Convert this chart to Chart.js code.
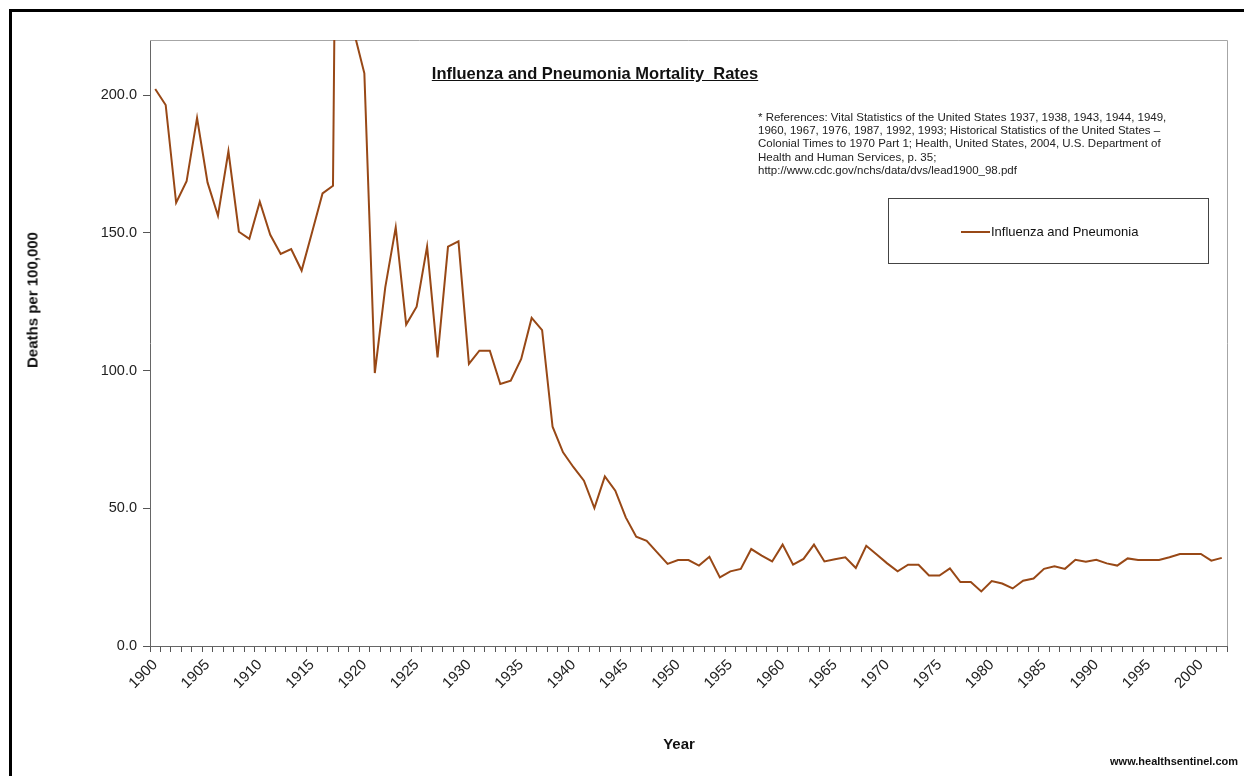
<!DOCTYPE html>
<html>
<head>
<meta charset="utf-8">
<title>Influenza and Pneumonia Mortality Rates</title>
<script src="https://cdn.jsdelivr.net/npm/chart.js@4.4.1/dist/chart.umd.min.js"></script>
<style>
  body { margin: 0; background: #fff; font-family: 'Liberation Sans', Arial, sans-serif; }
  #wrap { position: relative; width: 1244px; height: 776px; overflow: hidden; }
  #frame { position: absolute; left: 9px; top: 9px; width: 1260px; height: 800px; border: 3px solid #000; }
  #chart { position: absolute; left: 0; top: 0; }
  #title { position: absolute; left: 0; width: 1190px; top: 64px; text-align: center; font-weight: bold; font-size: 16.5px; text-decoration: underline; color: #111; white-space: pre; }
  #note { position: absolute; left: 758px; top: 111px; font-size: 11.5px; line-height: 13.2px; color: #222; white-space: pre; }
  #legend { position: absolute; left: 888px; top: 198px; width: 321px; height: 66px; border: 1px solid #444; box-sizing: border-box; }
  #legend .item { position: absolute; left: 72px; top: 25px; font-size: 13px; color: #111; display: flex; align-items: center; }
  #legend .swatch { width: 29px; height: 2px; margin-right: 1px; }
  .axis-title { position: absolute; font-weight: bold; font-size: 15px; color: #111; white-space: nowrap; transform: translate(-50%, -50%); }
  #ytitle { left: 32px; top: 300px; transform: translate(-50%, -50%) rotate(-90deg); }
  #xtitle { left: 679px; top: 743px; }
  #site { position: absolute; right: 6px; top: 755px; font-size: 11px; font-weight: bold; color: #111; }
</style>
</head>
<body>
<div id="wrap">
  <div id="frame"></div>
  <canvas id="chart" width="1244" height="776"></canvas>
  <div id="title">Influenza and Pneumonia Mortality  Rates</div>
  <div id="note">* References: Vital Statistics of the United States 1937, 1938, 1943, 1944, 1949,
1960, 1967, 1976, 1987, 1992, 1993; Historical Statistics of the United States –
Colonial Times to 1970 Part 1; Health, United States, 2004, U.S. Department of
Health and Human Services, p. 35;
http://www.cdc.gov/nchs/data/dvs/lead1900_98.pdf</div>
  <div id="legend"></div>
  <div id="ytitle" class="axis-title">Deaths per 100,000</div>
  <div id="xtitle" class="axis-title">Year</div>
  <div id="site">www.healthsentinel.com</div>
</div>
<script>
const years = [];
for (let y = 1900; y <= 2002; y++) years.push(String(y));

// deaths per 100,000 (1918 runs far above the plot)
const rates1900s = [202.2, 196.4, 160.9, 168.7, 191.7, 168.3, 156.2, 179.6, 150.4, 147.8];
const rates1910s = [161.3, 149.3, 142.3, 144.1, 136.3, 150.2, 164.3, 167.1, 588.5, 223.0];
const rates1920s = [207.9, 99.1, 130.2, 152.0, 116.7, 123.2, 145.0, 104.8, 145.0, 146.9];
const rates1930s = [102.4, 107.2, 107.2, 95.1, 96.3, 104.2, 119.1, 114.7, 79.6, 70.3];
const rates1940s = [64.9, 60.0, 50.1, 61.6, 56.4, 46.7, 39.7, 38.2, 34.0, 29.8];
const rates1950s = [31.2, 31.2, 29.2, 32.4, 24.9, 27.1, 28.0, 35.2, 32.8, 30.7];
const rates1960s = [36.8, 29.5, 31.6, 36.8, 30.7, 31.5, 32.2, 28.3, 36.4, 33.2];
const rates1970s = [30.0, 27.1, 29.5, 29.5, 25.6, 25.6, 28.2, 23.2, 23.2, 19.8];
const rates1980s = [23.6, 22.7, 20.9, 23.7, 24.5, 28.0, 28.9, 28.0, 31.3, 30.6];
const rates1990s = [31.3, 30.0, 29.2, 31.8, 31.2, 31.2, 31.2, 32.2, 33.4, 33.4];
const rates2000s = [33.4, 31.0, 32.0];

const rates = [].concat(rates1900s, rates1910s, rates1920s, rates1930s, rates1940s,
  rates1950s, rates1960s, rates1970s, rates1980s, rates1990s, rates2000s);

const yTicks = [0, 50, 100, 150, 200];

const plotFrame = {
  id: 'plotFrame',
  beforeDatasetsDraw(chart) {
    const { ctx, chartArea: a } = chart;
    ctx.save();
    ctx.strokeStyle = '#a6a6a6';
    ctx.lineWidth = 1;
    ctx.beginPath();
    ctx.moveTo(a.left, Math.round(a.top) + 0.5);
    ctx.lineTo(Math.round(a.right) + 0.5, Math.round(a.top) + 0.5);
    ctx.lineTo(Math.round(a.right) + 0.5, a.bottom);
    ctx.stroke();
    ctx.restore();
  },
};

const chart = new Chart(document.getElementById('chart'), {
  type: 'line',
  data: {
    labels: years,
    datasets: [
      {
        label: 'Influenza and Pneumonia',
        data: rates,
        borderColor: '#984816',
        borderWidth: 2,
        pointRadius: 0,
        tension: 0,
      },
    ],
  },
  options: {
    responsive: false,
    animation: false,
    layout: { padding: { left: 0, top: 40, right: 17, bottom: 0 } },
    plugins: {
      legend: { display: false },
      tooltip: { enabled: false },
    },
    scales: {
      x: {
        offset: true,
        afterFit: (scale) => { scale.height = 130; },
        border: { color: '#666', width: 1 },
        grid: { offset: true, drawOnChartArea: false, tickLength: 6, color: '#555' },
        ticks: {
          autoSkip: false,
          minRotation: 45,
          maxRotation: 45,
          padding: 4,
          color: '#222',
          font: { family: "'Liberation Sans', Arial, sans-serif", size: 15 },
          callback: function (val) {
            const lab = this.getLabelForValue(val);
            return Number(lab) % 5 === 0 ? lab : '';
          },
        },
      },
      y: {
        min: 0,
        max: 220,
        afterFit: (scale) => { scale.width = 150; },
        afterBuildTicks: (scale) => {
          scale.ticks = yTicks.map((v) => ({ value: v }));
        },
        border: { color: '#666', width: 1 },
        grid: { drawOnChartArea: false, tickLength: 7, color: '#555' },
        ticks: {
          padding: 6,
          color: '#222',
          font: { family: "'Liberation Sans', Arial, sans-serif", size: 14.5 },
          callback: (v) => Number(v).toFixed(1),
        },
      },
    },
  },
  plugins: [plotFrame],
});

// legend box built from the dataset
const ds = chart.data.datasets[0];
document.getElementById('legend').innerHTML =
  `<div class="item"><span class="swatch" style="background:${ds.borderColor}"></span>${ds.label}</div>`;
</script>
</body>
</html>
